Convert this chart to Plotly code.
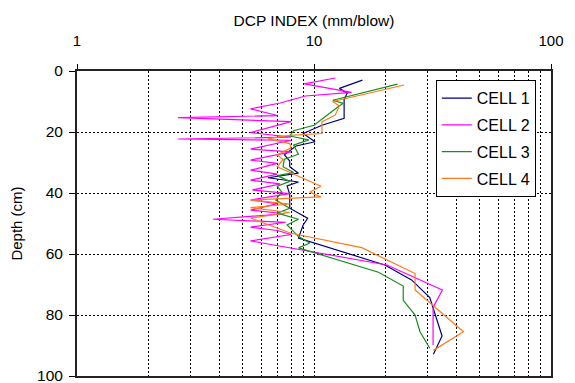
import plotly.graph_objects as go

# ---- data ----
cell_names = ["CELL 1", "CELL 2", "CELL 3", "CELL 4"]

depth1 = [3.0, 5.7, 7.3, 9.3, 15.5, 17.8, 20.5, 23.2, 24.6, 27.5, 29.5, 31.4, 33.5, 35.0,
          36.4, 37.7, 40.5, 45.0, 48.3, 50.5, 54.8, 63.6, 68.5, 74.3, 86.9, 92.9]
dcp1 = [16.0, 12.8, 13.8, 13.4, 13.4, 10.8, 9.0, 10.1, 8.4, 7.5, 7.9, 7.9, 8.6, 6.4,
        8.6, 7.7, 7.9, 7.9, 9.4, 9.0, 8.6, 19.9, 25.8, 30.8, 34.7, 31.9]

depth2 = [2.3, 4.2, 7.0, 8.2, 10.5, 12.4, 14.6, 15.3, 16.6, 20.2, 21.7, 22.3, 22.7, 25.6,
          26.5, 29.2, 30.3, 32.5, 33.8, 35.8, 37.0, 39.0, 40.2, 42.3, 43.5, 45.6, 46.8,
          48.6, 49.6, 51.2, 52.3, 53.6, 55.7, 63.6, 71.8, 77.5, 89.8]
dcp2 = [12.3, 9.1, 14.4, 9.2, 7.2, 5.4, 7.0, 2.67, 8.0, 5.4, 8.0, 2.67, 8.0, 5.4,
        8.0, 5.4, 7.0, 5.4, 7.0, 5.4, 7.2, 5.5, 7.9, 5.4, 7.0, 5.4, 7.5,
        3.75, 7.6, 5.4, 7.0, 8.0, 5.4, 20.3, 34.8, 31.8, 31.8]

depth3 = [4.3, 9.6, 10.6, 11.8, 15.1, 17.8, 19.6, 21.3, 22.6, 24.3, 27.3, 28.9, 31.4,
          33.3, 34.3, 36.2, 37.8, 39.6, 42.3, 45.0, 46.6, 48.6, 50.5, 54.3, 56.4, 58.0,
          66.0, 70.5, 75.2, 80.0, 85.5, 90.9]
dcp3 = [22.5, 12.0, 13.3, 12.6, 11.1, 10.0, 8.2, 7.9, 9.5, 8.2, 8.6, 7.5, 7.4,
         8.2, 7.0, 7.9, 7.0, 7.3, 6.9, 7.9, 7.0, 8.6, 7.7, 8.6, 9.6, 8.6,
         18.7, 23.8, 23.8, 26.7, 28.0, 30.8]

depth4 = [4.6, 10.0, 11.5, 14.4, 16.7, 20.5, 21.1, 22.2, 23.8, 25.2, 27.5, 29.0, 31.4,
          37.8, 39.7, 41.3, 42.3, 43.6, 44.8, 46.4, 48.2, 53.2, 57.9, 66.4, 71.8, 85.5, 91.6]
dcp4 = [24.0, 12.0, 12.8, 12.3, 10.8, 10.8, 7.9, 6.4, 7.9, 8.0, 7.0, 7.4, 7.0,
        10.7, 9.6, 10.7, 5.4, 7.9, 5.4, 7.9, 5.4, 8.0, 15.9, 26.7, 26.7, 42.7, 31.9]

x_tickvals = [1, 10, 100]
x_minor_vals = [2, 3, 4, 5, 6, 7, 8, 9, 20, 30, 40, 50, 60, 70, 80, 90]
y_tickvals = [0, 20, 40, 60, 80, 100]

colors = ["#000080", "#FF00FF", "#1A8C1A", "#FF7A1A"]

series = [(depth1, dcp1), (depth2, dcp2), (depth3, dcp3), (depth4, dcp4)]

FONT = "Liberation Sans, Arial, sans-serif"

fig = go.Figure()
for name, (d, v), c in zip(cell_names, series, colors):
    fig.add_trace(go.Scatter(
        x=v, y=d, mode="lines", name=name, legendgroup=name,
        line=dict(color=c, width=1.2),
    ))

grid_dash = "2px,2px"

# page body has an 8px default margin, so the figure is sized to fit inside it
fig.update_layout(
    width=567, height=375,
    margin=dict(l=69, r=24, t=63, b=7),
    paper_bgcolor="white", plot_bgcolor="white",
    font=dict(family=FONT, size=15, color="black"),
    showlegend=True,
    legend=dict(
        x=0.757, y=0.97, xanchor="left", yanchor="top",
        bgcolor="white", bordercolor="black", borderwidth=1,
        font=dict(family=FONT, size=16, color="black"),
        tracegroupgap=3,
    ),
)

fig.update_xaxes(
    type="log", range=[0, 2], side="top", automargin=False,
    tickvals=x_tickvals, ticktext=[str(v) for v in x_tickvals],
    ticks="outside", ticklen=5, tickcolor="black", tickwidth=1,
    ticklabelstandoff=12, ticklabeloverflow="allow",
    tickfont=dict(size=15),
    showline=True, linecolor="#222", linewidth=2, mirror=True,
    showgrid=True, gridcolor="black", gridwidth=1, griddash=grid_dash,
    minor=dict(tickvals=x_minor_vals, showgrid=True, gridcolor="black",
               gridwidth=1, griddash=grid_dash, ticks=""),
    zeroline=False,
    title=dict(text="DCP INDEX (mm/blow)", font=dict(size=15.5), standoff=2),
)

fig.update_yaxes(
    range=[100, 0], automargin=False,
    tickvals=y_tickvals,
    ticks="outside", ticklen=6, tickcolor="black", tickwidth=1,
    ticklabelstandoff=3, ticklabeloverflow="allow",
    tickfont=dict(size=15.5),
    showline=True, linecolor="#222", linewidth=2, mirror=True,
    showgrid=True, gridcolor="black", gridwidth=1, griddash=grid_dash,
    zeroline=False,
    title=dict(text="Depth (cm)", font=dict(size=15), standoff=22),
)

fig.write_html("out.html")
